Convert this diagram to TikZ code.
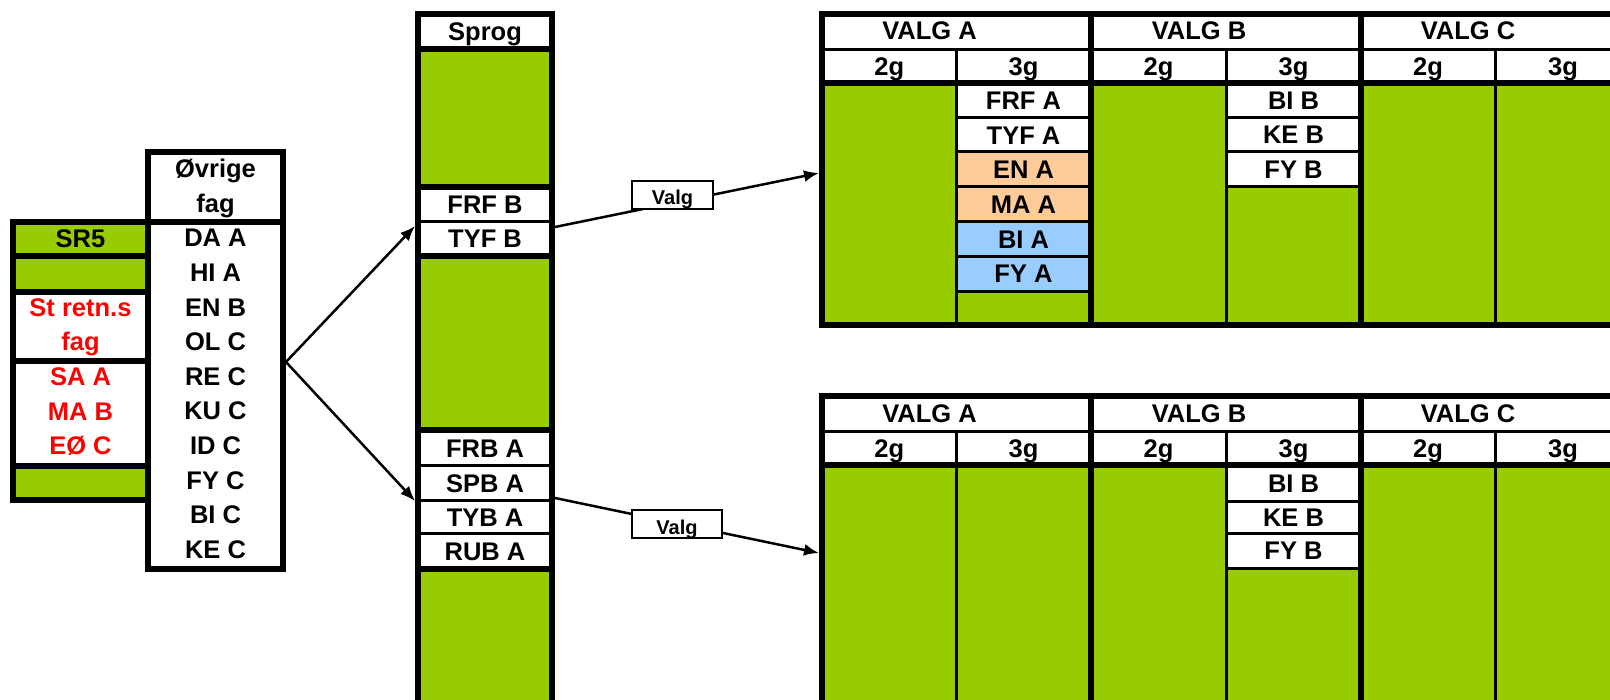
\documentclass[tikz,border=0pt]{standalone}
\usepackage{fontspec}
\setmainfont{Liberation Sans}
\usetikzlibrary{arrows.meta}
\definecolor{grn}{RGB}{153,204,0}
\definecolor{orng}{RGB}{255,204,153}
\definecolor{blaa}{RGB}{153,204,255}

\begin{document}
\begin{tikzpicture} [x=1pt, y=-1pt, >={Latex[length=15pt,width=12pt]},
		tyk/.style={line width=6pt},
		tynd/.style={line width=3pt},
		fag/.style={font=\fontsize{25.5}{30}\selectfont\bfseries, inner sep=0pt, text height=18.3pt, text depth=0pt},
		rodfag/.style={fag, text=red},
		pil/.style={->, line width=2.5pt},
		valgboks/.style={draw, line width=2.5pt, fill=white, minimum height=28pt, inner sep=0pt, font=\fontsize{20}{24}\selectfont\bfseries, text height=20pt, text depth=0pt}]
			\useasboundingbox (0,0) rectangle (1610,700);
			\clip (0,0) rectangle (1610,700);
			%%% SR5
			\fill[grn] (13,222) rectangle (148,292);
			\fill[grn] (13,466) rectangle (148,500);
			\draw[tyk] (13,222) rectangle (148,500);
			\foreach \y in {256,292,361,466}
			\draw[tyk] (13,\y) -- (148,\y);
			\node[fag] (sr5) at (80.5,238.7) {SR5};
			\node[rodfag] (stretn) at (80.5,307.1) {St retn.s};
			\node[rodfag] (stfag) at (80.5,341.7) {fag};
			\node[rodfag] (sa) at (80.5,376.3) {SA A};
			\node[rodfag] (ma) at (80.5,410.9) {MA B};
			\node[rodfag] (eo) at (80.5,445.5) {EØ C};
			%%% Øvrige fag
			\draw[tyk, fill=white] (148,152) rectangle (283,569);
			\draw[tyk] (148,222) -- (283,222);
			\foreach \t [count=\i from 0] in {Øvrige,fag,DA A,HI A,EN B,OL C,RE C,KU C,ID C,FY C,BI C,KE C}
			\node[fag] (ov\i) at (215.5,168.6+34.6*\i) {\t};
			%%% Sprog
			\fill[grn] (418,49) rectangle (552,187);
			\fill[grn] (418,256) rectangle (552,430.5);
			\fill[grn] (418,569) rectangle (552,710);
			\draw[tyk] (418,710) -- (418,14.5) -- (552,14.5) -- (552,710);
			\foreach \y in {49,187,256,430.5,569}
			\draw[tyk] (418,\y) -- (552,\y);
			\foreach \y in {221.5,466,501,533.5}
			\draw[tynd] (418,\y) -- (552,\y);
			\node[fag] (sprog) at (485,31.7) {Sprog};
			\node[fag] (frfb) at (485,204.2) {FRF B};
			\node[fag] (tyfb) at (485,238.7) {TYF B};
			\node[fag] (frba) at (485,448.2) {FRB A};
			\node[fag] (spba) at (485,483.5) {SPB A};
			\node[fag] (tyba) at (485,517.2) {TYB A};
			\node[fag] (ruba) at (485,551.2) {RUB A};
			%%% Valg 1 (oeverst)
			\fill[grn] (822,83) rectangle (1640,325.5);
			\fill[white] (822,14.5) rectangle (1640,83);
			\fill[white] (956.5,83) rectangle (1090.5,152);
			\fill[orng] (956.5,152) rectangle (1090.5,221.5);
			\fill[blaa] (956.5,221.5) rectangle (1090.5,291.5);
			\fill[white] (1226.5,83) rectangle (1360.5,186.5);
			\draw[tyk] (1640,14.5) -- (822,14.5) -- (822,325.5) -- (1640,325.5);
			\draw[tynd] (822,49.5) -- (1640,49.5);
			\draw[tyk] (822,83) -- (1640,83);
			\draw[tyk] (1090.5,14.5) -- (1090.5,325.5);
			\draw[tyk] (1360.5,14.5) -- (1360.5,325.5);
			\foreach \x in {956.5,1226.5,1495.5}
			\draw[tynd] (\x,49.5) -- (\x,325.5);
			\foreach \y in {117.5,152,186.5,221.5,256.5,291.5}
			\draw[tynd] (956.5,\y) -- (1090.5,\y);
			\foreach \y in {117.5,152,186.5}
			\draw[tynd] (1226.5,\y) -- (1360.5,\y);
			\node[fag] (valgA) at (929.5,30) {VALG A};
			\node[fag] (valgB) at (1199,30) {VALG B};
			\node[fag] (valgC) at (1468,30) {VALG C};
			\foreach \x/\t [count=\i] in {889.2/2g,1023.5/3g,1158.5/2g,1293.5/3g,1428/2g,1563/3g}
			\node[fag] (g\i) at (\x,66.2) {\t};
			\foreach \t [count=\i from 0] in {FRF A,TYF A,EN A,MA A,BI A,FY A}
			\node[fag] (a\i) at (1023.5,100.2+34.7*\i) {\t};
			\foreach \t [count=\i from 0] in {BI B,KE B,FY B}
			\node[fag] (b\i) at (1293.5,100.2+34.5*\i) {\t};
			%%% Valg 2 (nederst)
			\fill[grn] (822,465.5) rectangle (1640,710);
			\fill[white] (822,396) rectangle (1640,465.5);
			\fill[white] (1226.5,465.5) rectangle (1360.5,568.5);
			\draw[tyk] (1640,396) -- (822,396) -- (822,710);
			\draw[tynd] (822,431.5) -- (1640,431.5);
			\draw[tyk] (822,465.5) -- (1640,465.5);
			\draw[tyk] (1090.5,396) -- (1090.5,710);
			\draw[tyk] (1360.5,396) -- (1360.5,710);
			\foreach \x in {956.5,1226.5,1495.5}
			\draw[tynd] (\x,431.5) -- (\x,710);
			\foreach \y in {501.5,533,568.5}
			\draw[tynd] (1226.5,\y) -- (1360.5,\y);
			\node[fag] (valgA2) at (929.5,413) {VALG A};
			\node[fag] (valgB2) at (1199,413) {VALG B};
			\node[fag] (valgC2) at (1468,413) {VALG C};
			\foreach \x/\t [count=\i] in {889.2/2g,1023.5/3g,1158.5/2g,1293.5/3g,1428/2g,1563/3g}
			\node[fag] (h\i) at (\x,448.5) {\t};
			\node[fag] (bib2) at (1293.5,483.5) {BI B};
			\node[fag] (keb2) at (1293.5,517.2) {KE B};
			\node[fag] (fyb2) at (1293.5,550.7) {FY B};
			%%% Pile
			\coordinate (ovUd) at (286,362);
			\coordinate (tyfInd) at (415,226);
			\coordinate (spbInd) at (415,501);
			\coordinate (tyfUd) at (555,227);
			\coordinate (panel1) at (819,173);
			\coordinate (spbUd) at (555,498);
			\coordinate (panel2) at (819,553);
			\draw[pil] (ovUd) -- (tyfInd);
			\draw[pil] (ovUd) -- (spbInd);
			\draw[pil] (tyfUd) -- (panel1);
			\draw[pil] (spbUd) -- (panel2);
			\node[valgboks, minimum width=81pt] (valg1) at (672.5,195) {Valg};
			\node[valgboks, minimum width=90pt] (valg2) at (677,524) {Valg};
		\end{tikzpicture}
\end{document}
